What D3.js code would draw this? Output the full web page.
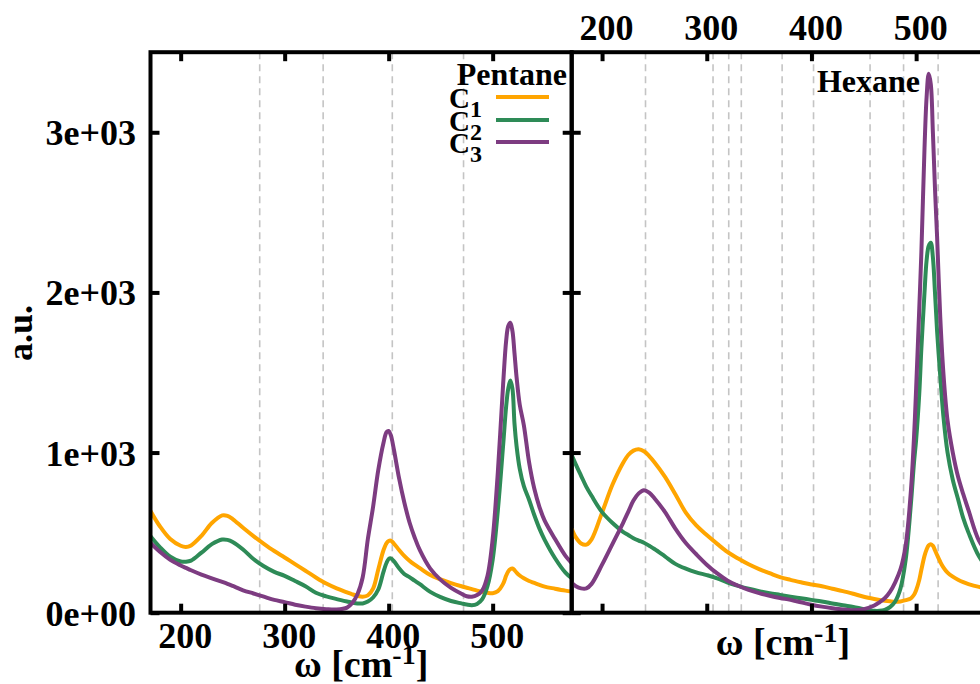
<!DOCTYPE html>
<html><head><meta charset="utf-8">
<script src="https://cdn.jsdelivr.net/npm/d3@7"></script>
<style>
body{margin:0;background:#fff;}
svg{display:block;background:#fff;}
text{font-family:"Liberation Serif","Times New Roman",serif;font-weight:bold;fill:#000;}
</style>
</head><body>
<svg id="chart" width="980" height="684"></svg>
<script>
// ---------- data ----------
const seriesNames = ["C1", "C2", "C3"];
const seriesColors = ["#FFA500", "#2E8B57", "#7D3C81"];
const panelTitles = ["Pentane", "Hexane"];
const xTicks = [200, 300, 400, 500];
const xTickLabels = ["200", "300", "400", "500"];
const yTicks = [0, 1000, 2000, 3000];
const yTickLabels = ["0e+00", "1e+03", "2e+03", "3e+03"];

const pentaneRefLines = [276, 337, 403.5, 472];
const hexaneRefLines = [241.5, 306, 321, 333, 372, 402, 456, 488, 521];

const pentaneOmega = [171,180,190,200,205,210,220,230,240,245,250,260,270,280,290,300,310,320,330,340,350,360,365,370,375,380,385,390,395,398,400,402,405,410,415,420,425,430,440,450,460,470,475,480,485,490,495,500,505,510,513,515,517,519,521,523,526,530,535,540,545,550,560,570,576];
const pentaneC1 = [635,540,460,418,410,420,480,560,608,605,585,530,478,430,385,345,303,262,220,182,152,127,115,105,100,108,150,270,390,435,448,450,432,392,355,325,300,278,235,208,185,165,156,147,138,130,124,122,135,180,232,258,272,276,266,250,232,215,198,186,174,163,150,138,132];
const pentaneC2 = [478,410,350,320,318,325,375,428,457,455,442,395,335,290,255,230,198,165,125,102,85,70,63,58,58,70,95,145,255,312,335,339,322,278,242,222,200,178,130,97,73,58,51,47,55,85,165,330,640,1040,1290,1400,1450,1400,1180,1040,900,790,705,610,525,455,340,250,215];
const pentaneC3 = [435,380,330,295,280,265,238,215,192,180,167,140,120,100,80,66,50,38,28,22,20,32,60,115,220,460,660,890,1060,1128,1135,1110,1020,840,690,565,470,390,275,205,155,118,103,100,110,140,230,460,880,1420,1700,1790,1810,1760,1620,1470,1300,1170,940,775,660,575,460,355,310];

const hexaneOmega = [171,175,180,185,190,200,210,220,225,230,235,240,245,250,260,270,280,290,300,310,320,330,340,350,360,370,380,390,400,410,420,430,440,450,460,465,470,475,480,485,490,495,498,500,503,505,508,510,512,514,516,518,520,523,526,530,535,540,545,550,560,570,576];
const hexaneC1 = [525,470,432,425,458,625,800,935,985,1012,1020,1008,978,940,850,740,625,545,485,430,378,338,302,272,247,222,205,190,176,165,150,135,118,100,86,80,75,71,68,70,78,90,112,140,205,268,355,395,420,428,418,390,360,318,283,250,225,206,191,179,161,148,142];
const hexaneC2 = [985,925,855,786,730,628,560,505,485,465,450,437,418,398,352,305,275,252,235,215,188,168,150,135,122,111,100,90,80,70,58,46,36,22,12,12,18,35,70,150,330,680,940,1080,1370,1650,2000,2200,2290,2310,2220,2000,1760,1480,1230,1000,830,710,590,500,352,265,230];
const hexaneC3 = [185,165,152,152,180,300,430,560,630,700,745,765,750,715,630,525,435,365,300,245,200,168,142,122,106,92,80,65,50,38,28,20,16,22,45,65,90,130,190,270,420,760,1100,1400,1900,2250,2900,3220,3365,3300,3000,2650,2350,1850,1500,1200,1000,850,740,640,450,360,320];

// ---------- layout ----------
const svg = d3.select("#chart");
const yTop = 52.2, yBot = 612.7;
const y = d3.scaleLinear().domain([0, 3500]).range([yBot, yTop]);
const xDomain = [171, 576];

const panels = [
  {title: panelTitles[0], omega: pentaneOmega, series: [pentaneC1, pentaneC2, pentaneC3], refs: pentaneRefLines,
   x0: 150.5, x1: 571.7, bottomLabels: true, topLabels: false, yLabels: true},
  {title: panelTitles[1], omega: hexaneOmega, series: [hexaneC1, hexaneC2, hexaneC3], refs: hexaneRefLines,
   x0: 571.7, x1: 995.7, bottomLabels: false, topLabels: true, yLabels: false}
];

function cleanAxis(g) {
  g.select(".domain").remove();
  g.attr("font-family", null).attr("font-size", null);
  g.selectAll(".tick line").attr("stroke", "#000").attr("stroke-width", 4);
  g.selectAll(".tick text").style("font-size", "36px").attr("fill", "#000");
}

panels.forEach((p, pi) => {
  const x = d3.scaleLinear().domain(xDomain).range([p.x0, p.x1]);
  const clipId = "clip" + pi;
  svg.append("clipPath").attr("id", clipId).append("rect")
    .attr("x", p.x0).attr("y", yTop).attr("width", p.x1 - p.x0).attr("height", yBot - yTop);

  const g = svg.append("g");
  // reference dashed lines
  g.append("g").selectAll("line").data(p.refs).join("line")
    .attr("x1", d => x(d)).attr("x2", d => x(d))
    .attr("y1", yTop).attr("y2", yBot)
    .attr("stroke", "#c4c4c4").attr("stroke-width", 1.6).attr("stroke-dasharray", "7,5");

  // curves
  const line = d3.line().x(d => x(d[0])).y(d => y(d[1])).curve(d3.curveCatmullRom.alpha(0.5));
  const cg = g.append("g").attr("clip-path", `url(#${clipId})`);
  p.series.forEach((vals, si) => {
    const pts = p.omega.map((w, i) => [w, vals[i]]);
    cg.append("path").datum(pts).attr("d", line)
      .attr("fill", "none").attr("stroke", seriesColors[si]).attr("stroke-width", 4)
      .attr("stroke-linejoin", "round");
  });

  // frame
  g.append("rect").attr("x", p.x0).attr("y", yTop).attr("width", p.x1 - p.x0).attr("height", yBot - yTop)
    .attr("fill", "none").attr("stroke", "#000").attr("stroke-width", 4);

  // axes
  const bottom = g.append("g").attr("transform", `translate(0,${yBot})`)
    .call(d3.axisBottom(x).tickValues(xTicks).tickSize(-9)
      .tickFormat((d, i) => p.bottomLabels ? xTickLabels[i] : ""));
  cleanAxis(bottom);
  bottom.selectAll(".tick text").attr("dy", null).attr("y", 35.5).attr("dx", 4);

  const top = g.append("g").attr("transform", `translate(0,${yTop})`)
    .call(d3.axisTop(x).tickValues(xTicks).tickSize(-9)
      .tickFormat((d, i) => p.topLabels ? xTickLabels[i] : ""));
  cleanAxis(top);
  top.selectAll(".tick text").attr("dy", null).attr("y", -12).attr("dx", 4);

  const left = g.append("g").attr("transform", `translate(${p.x0},0)`)
    .call(d3.axisLeft(y).tickValues(yTicks).tickSize(-9)
      .tickFormat((d, i) => p.yLabels ? yTickLabels[i] : ""));
  cleanAxis(left);
  left.selectAll(".tick text").attr("dy", null).attr("x", -14.5).attr("y", 12.5);

  const right = g.append("g").attr("transform", `translate(${p.x1},0)`)
    .call(d3.axisRight(y).tickValues(yTicks).tickSize(-9).tickFormat(""));
  cleanAxis(right);

  // x axis title
  const lab = svg.append("text")
    .attr("x", (p.x0 + Math.min(p.x1, 994)) / 2)
    .attr("y", pi === 0 ? 677 : 655)
    .attr("text-anchor", "middle").style("font-size", "38px");
  lab.append("tspan").text("ω [cm");
  lab.append("tspan").text("-1").attr("dy", -13).style("font-size", "28px");
  lab.append("tspan").text("]").attr("dy", 13);
});

// panel titles
svg.append("text").attr("x", 567).attr("y", 85).attr("text-anchor", "end").style("font-size", "32px").text(panelTitles[0]);
svg.append("text").attr("x", 920).attr("y", 91.5).attr("text-anchor", "end").style("font-size", "32px").text(panelTitles[1]);

// legend
const legY = [108, 131, 153];
seriesNames.forEach((nm, i) => {
  const t = svg.append("text").attr("x", 449).attr("y", legY[i]).style("font-size", "29px");
  t.append("tspan").text(nm.charAt(0));
  t.append("tspan").text(nm.slice(1)).attr("dy", 9).style("font-size", "24px");
  svg.append("line").attr("x1", 496).attr("x2", 549).attr("y1", legY[i] - 11).attr("y2", legY[i] - 11)
    .attr("stroke", seriesColors[i]).attr("stroke-width", 4);
});

// y axis title
svg.append("text").attr("transform", "translate(32,333) rotate(-90)")
  .attr("text-anchor", "middle").style("font-size", "36px").text("a.u.");
</script>
</body></html>
